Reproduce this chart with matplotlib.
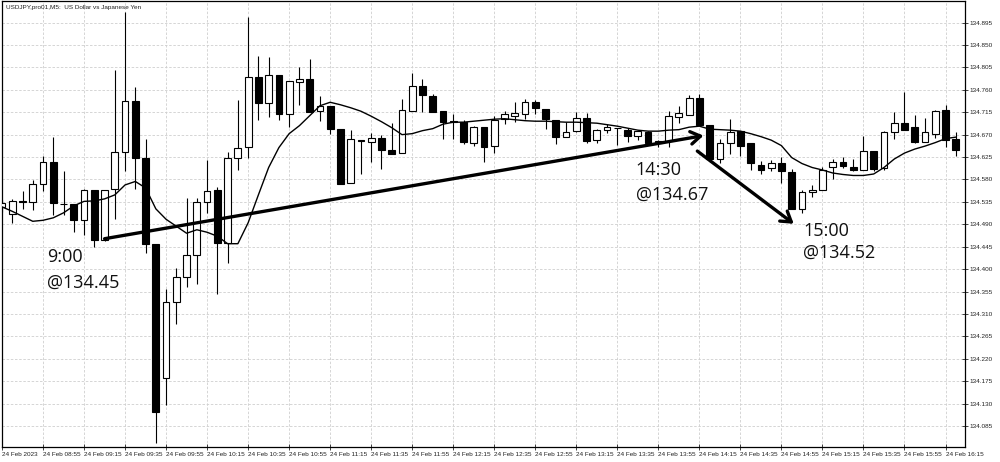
import numpy as np
import matplotlib.pyplot as plt

# USDJPY M5 bars from 24 Feb 2023 08:35
opens = [134.525, 134.511, 134.537, 134.535, 134.571, 134.616, 134.531, 134.531, 134.499, 134.558,
         134.459, 134.561, 134.636, 134.737, 134.624, 134.451, 134.182, 134.333, 134.384, 134.429,
         134.534, 134.558, 134.453, 134.624, 134.645, 134.786, 134.734, 134.790, 134.712, 134.776,
         134.782, 134.718, 134.728, 134.681, 134.572, 134.659, 134.656, 134.663, 134.640, 134.633,
         134.718, 134.767, 134.747, 134.717, 134.697, 134.696, 134.654, 134.685, 134.648, 134.701,
         134.708, 134.712, 134.735, 134.722, 134.700, 134.665, 134.677, 134.703, 134.660, 134.679,
         134.684, 134.680, 134.668, 134.675, 134.653, 134.658, 134.706, 134.710, 134.744, 134.690,
         134.621, 134.654, 134.677, 134.653, 134.610, 134.603, 134.613, 134.595, 134.521, 134.554,
         134.559, 134.605, 134.616, 134.605, 134.598, 134.638, 134.603, 134.675, 134.693, 134.685,
         134.656, 134.672, 134.719, 134.662]
highs = [134.539, 134.541, 134.556, 134.579, 134.628, 134.666, 134.596, 134.531, 134.561, 134.559,
         134.559, 134.799, 134.917, 134.766, 134.662, 134.451, 134.360, 134.403, 134.543, 134.543,
         134.620, 134.565, 134.636, 134.740, 134.907, 134.827, 134.825, 134.790, 134.777, 134.805,
         134.821, 134.748, 134.728, 134.681, 134.679, 134.659, 134.674, 134.670, 134.694, 134.742,
         134.793, 134.781, 134.752, 134.717, 134.712, 134.700, 134.688, 134.685, 134.708, 134.717,
         134.735, 134.742, 134.739, 134.722, 134.700, 134.695, 134.715, 134.714, 134.681, 134.692,
         134.684, 134.684, 134.680, 134.677, 134.660, 134.717, 134.727, 134.750, 134.752, 134.690,
         134.661, 134.701, 134.677, 134.653, 134.618, 134.620, 134.625, 134.601, 134.559, 134.569,
         134.605, 134.621, 134.625, 134.621, 134.667, 134.638, 134.677, 134.715, 134.755, 134.710,
         134.703, 134.720, 134.730, 134.675]
lows = [134.515, 134.493, 134.521, 134.519, 134.556, 134.509, 134.509, 134.474, 134.469, 134.445,
        134.457, 134.501, 134.596, 134.561, 134.433, 134.051, 134.127, 134.290, 134.364, 134.370,
        134.513, 134.350, 134.413, 134.600, 134.624, 134.700, 134.706, 134.700, 134.686, 134.730,
        134.715, 134.697, 134.672, 134.571, 134.572, 134.590, 134.616, 134.602, 134.632, 134.633,
        134.718, 134.715, 134.715, 134.662, 134.662, 134.652, 134.648, 134.616, 134.634, 134.691,
        134.695, 134.701, 134.712, 134.681, 134.652, 134.665, 134.675, 134.653, 134.653, 134.673,
        134.650, 134.656, 134.660, 134.653, 134.646, 134.646, 134.694, 134.710, 134.690, 134.616,
        134.614, 134.632, 134.628, 134.600, 134.590, 134.596, 134.573, 134.521, 134.513, 134.545,
        134.559, 134.581, 134.603, 134.596, 134.598, 134.596, 134.600, 134.661, 134.679, 134.653,
        134.656, 134.663, 134.646, 134.628]
closes = [134.533, 134.537, 134.535, 134.571, 134.616, 134.533, 134.530, 134.498, 134.558, 134.459,
          134.558, 134.636, 134.738, 134.624, 134.451, 134.113, 134.333, 134.385, 134.429, 134.534,
          134.557, 134.453, 134.624, 134.644, 134.786, 134.734, 134.790, 134.712, 134.777, 134.782,
          134.715, 134.728, 134.681, 134.571, 134.662, 134.658, 134.663, 134.640, 134.632, 134.719,
          134.767, 134.750, 134.715, 134.695, 134.696, 134.656, 134.685, 134.646, 134.700, 134.712,
          134.714, 134.735, 134.724, 134.701, 134.665, 134.675, 134.703, 134.658, 134.680, 134.685,
          134.683, 134.668, 134.677, 134.654, 134.658, 134.707, 134.714, 134.744, 134.690, 134.621,
          134.654, 134.675, 134.648, 134.614, 134.600, 134.613, 134.596, 134.521, 134.555, 134.559,
          134.600, 134.616, 134.608, 134.598, 134.638, 134.601, 134.675, 134.693, 134.679, 134.656,
          134.675, 134.717, 134.660, 134.640]
# moving average line as drawn on the chart
ma = [134.525, 134.516, 134.506, 134.496, 134.498, 134.503, 134.513, 134.527, 134.536, 134.537,
      134.541, 134.549, 134.569, 134.576, 134.563, 134.521, 134.500, 134.486, 134.472, 134.479,
      134.474, 134.466, 134.451, 134.451, 134.493, 134.549, 134.604, 134.644, 134.672, 134.688,
      134.708, 134.728, 134.735, 134.730, 134.724, 134.717, 134.707, 134.696, 134.684, 134.670,
      134.672, 134.678, 134.682, 134.691, 134.695, 134.695, 134.697, 134.699, 134.701, 134.702,
      134.700, 134.698, 134.697, 134.697, 134.696, 134.695, 134.695, 134.694, 134.693, 134.690,
      134.687, 134.683, 134.679, 134.677, 134.677, 134.679, 134.680, 134.685, 134.687, 134.681,
      134.680, 134.679, 134.677, 134.672, 134.666, 134.659, 134.648, 134.624, 134.612, 134.604,
      134.599, 134.593, 134.590, 134.588, 134.588, 134.591, 134.604, 134.621, 134.633, 134.641,
      134.647, 134.654, 134.662, 134.665]

price_ticks = [134.085, 134.130, 134.175, 134.220, 134.265, 134.310, 134.355, 134.400, 134.445,
               134.490, 134.535, 134.580, 134.625, 134.670, 134.715, 134.760, 134.805, 134.850, 134.895]
time_labels = ['24 Feb 2023', '24 Feb 08:55', '24 Feb 09:15', '24 Feb 09:35', '24 Feb 09:55',
               '24 Feb 10:15', '24 Feb 10:35', '24 Feb 10:55', '24 Feb 11:15', '24 Feb 11:35',
               '24 Feb 11:55', '24 Feb 12:15', '24 Feb 12:35', '24 Feb 12:55', '24 Feb 13:15',
               '24 Feb 13:35', '24 Feb 13:55', '24 Feb 14:15', '24 Feb 14:35', '24 Feb 14:55',
               '24 Feb 15:15', '24 Feb 15:35', '24 Feb 15:55', '24 Feb 16:15']

o = np.array(opens)
h = np.array(highs)
l = np.array(lows)
c = np.array(closes)
x = np.arange(len(o))

fig = plt.figure(figsize=(10, 4.62), dpi=100)
ax = fig.add_axes([0.002, 0.0325, 0.963, 0.9643])

small = dict(family='Liberation Sans', size=4.6)

# grid
for t in price_ticks:
    ax.axhline(t, color='#cfcfcf', lw=0.6, ls=(0, (3, 2)), zorder=0)
for k in range(0, len(x), 4):
    ax.axvline(k, color='#cfcfcf', lw=0.6, ls=(0, (3, 2)), zorder=0)

# candles
up = c >= o
ax.vlines(x, l, h, color='black', lw=0.8, zorder=2)
ax.bar(x[up], c[up] - o[up], bottom=o[up], width=0.66, color='white',
       edgecolor='black', lw=0.8, zorder=3)
ax.bar(x[~up], o[~up] - c[~up], bottom=c[~up], width=0.66, color='black',
       edgecolor='black', lw=0.8, zorder=3)

ax.plot(x, ma, color='black', lw=1.0, zorder=4)

# arrows and notes
arrow = dict(arrowstyle='->,head_length=0.7,head_width=0.45', color='black', lw=2.4,
             shrinkA=0, shrinkB=0)
ax.annotate('', xy=(68.4, 134.668), xytext=(10.0, 134.461), arrowprops=arrow, zorder=6)
ax.annotate('', xy=(77.2, 134.491), xytext=(67.8, 134.637), arrowprops=arrow, zorder=6)

note = dict(family='Open Sans', size=13, color='#111111', va='center', ha='left', zorder=7)
ax.text(4.4, 134.425, '9:00', **note)
ax.text(4.4, 134.372, '@134.45', **note)
ax.text(61.8, 134.598, '14:30', **note)
ax.text(61.8, 134.549, '@134.67', **note)
ax.text(78.1, 134.477, '15:00', **note)
ax.text(78.1, 134.433, '@134.52', **note)

ax.text(0.004, 0.992, 'USDJPY,pro01,M5:  US Dollar vs Japanese Yen', transform=ax.transAxes,
        va='top', ha='left', color='#222222', **small)

ax.set_xlim(0.05, 93.9)
ax.set_ylim(134.0428, 134.9374)

ax.yaxis.tick_right()
ax.set_yticks(price_ticks)
ax.set_yticklabels(['%.3f' % t for t in price_ticks], **small)
ax.set_xticks(np.arange(0, len(x), 4))
ax.set_xticklabels(time_labels, ha='left', **small)
ax.tick_params(axis='both', length=4, width=0.6, pad=1.5, colors='#222222', direction='inout')
for s in ax.spines.values():
    s.set_linewidth(0.9)

plt.savefig('out.png', dpi=100)
